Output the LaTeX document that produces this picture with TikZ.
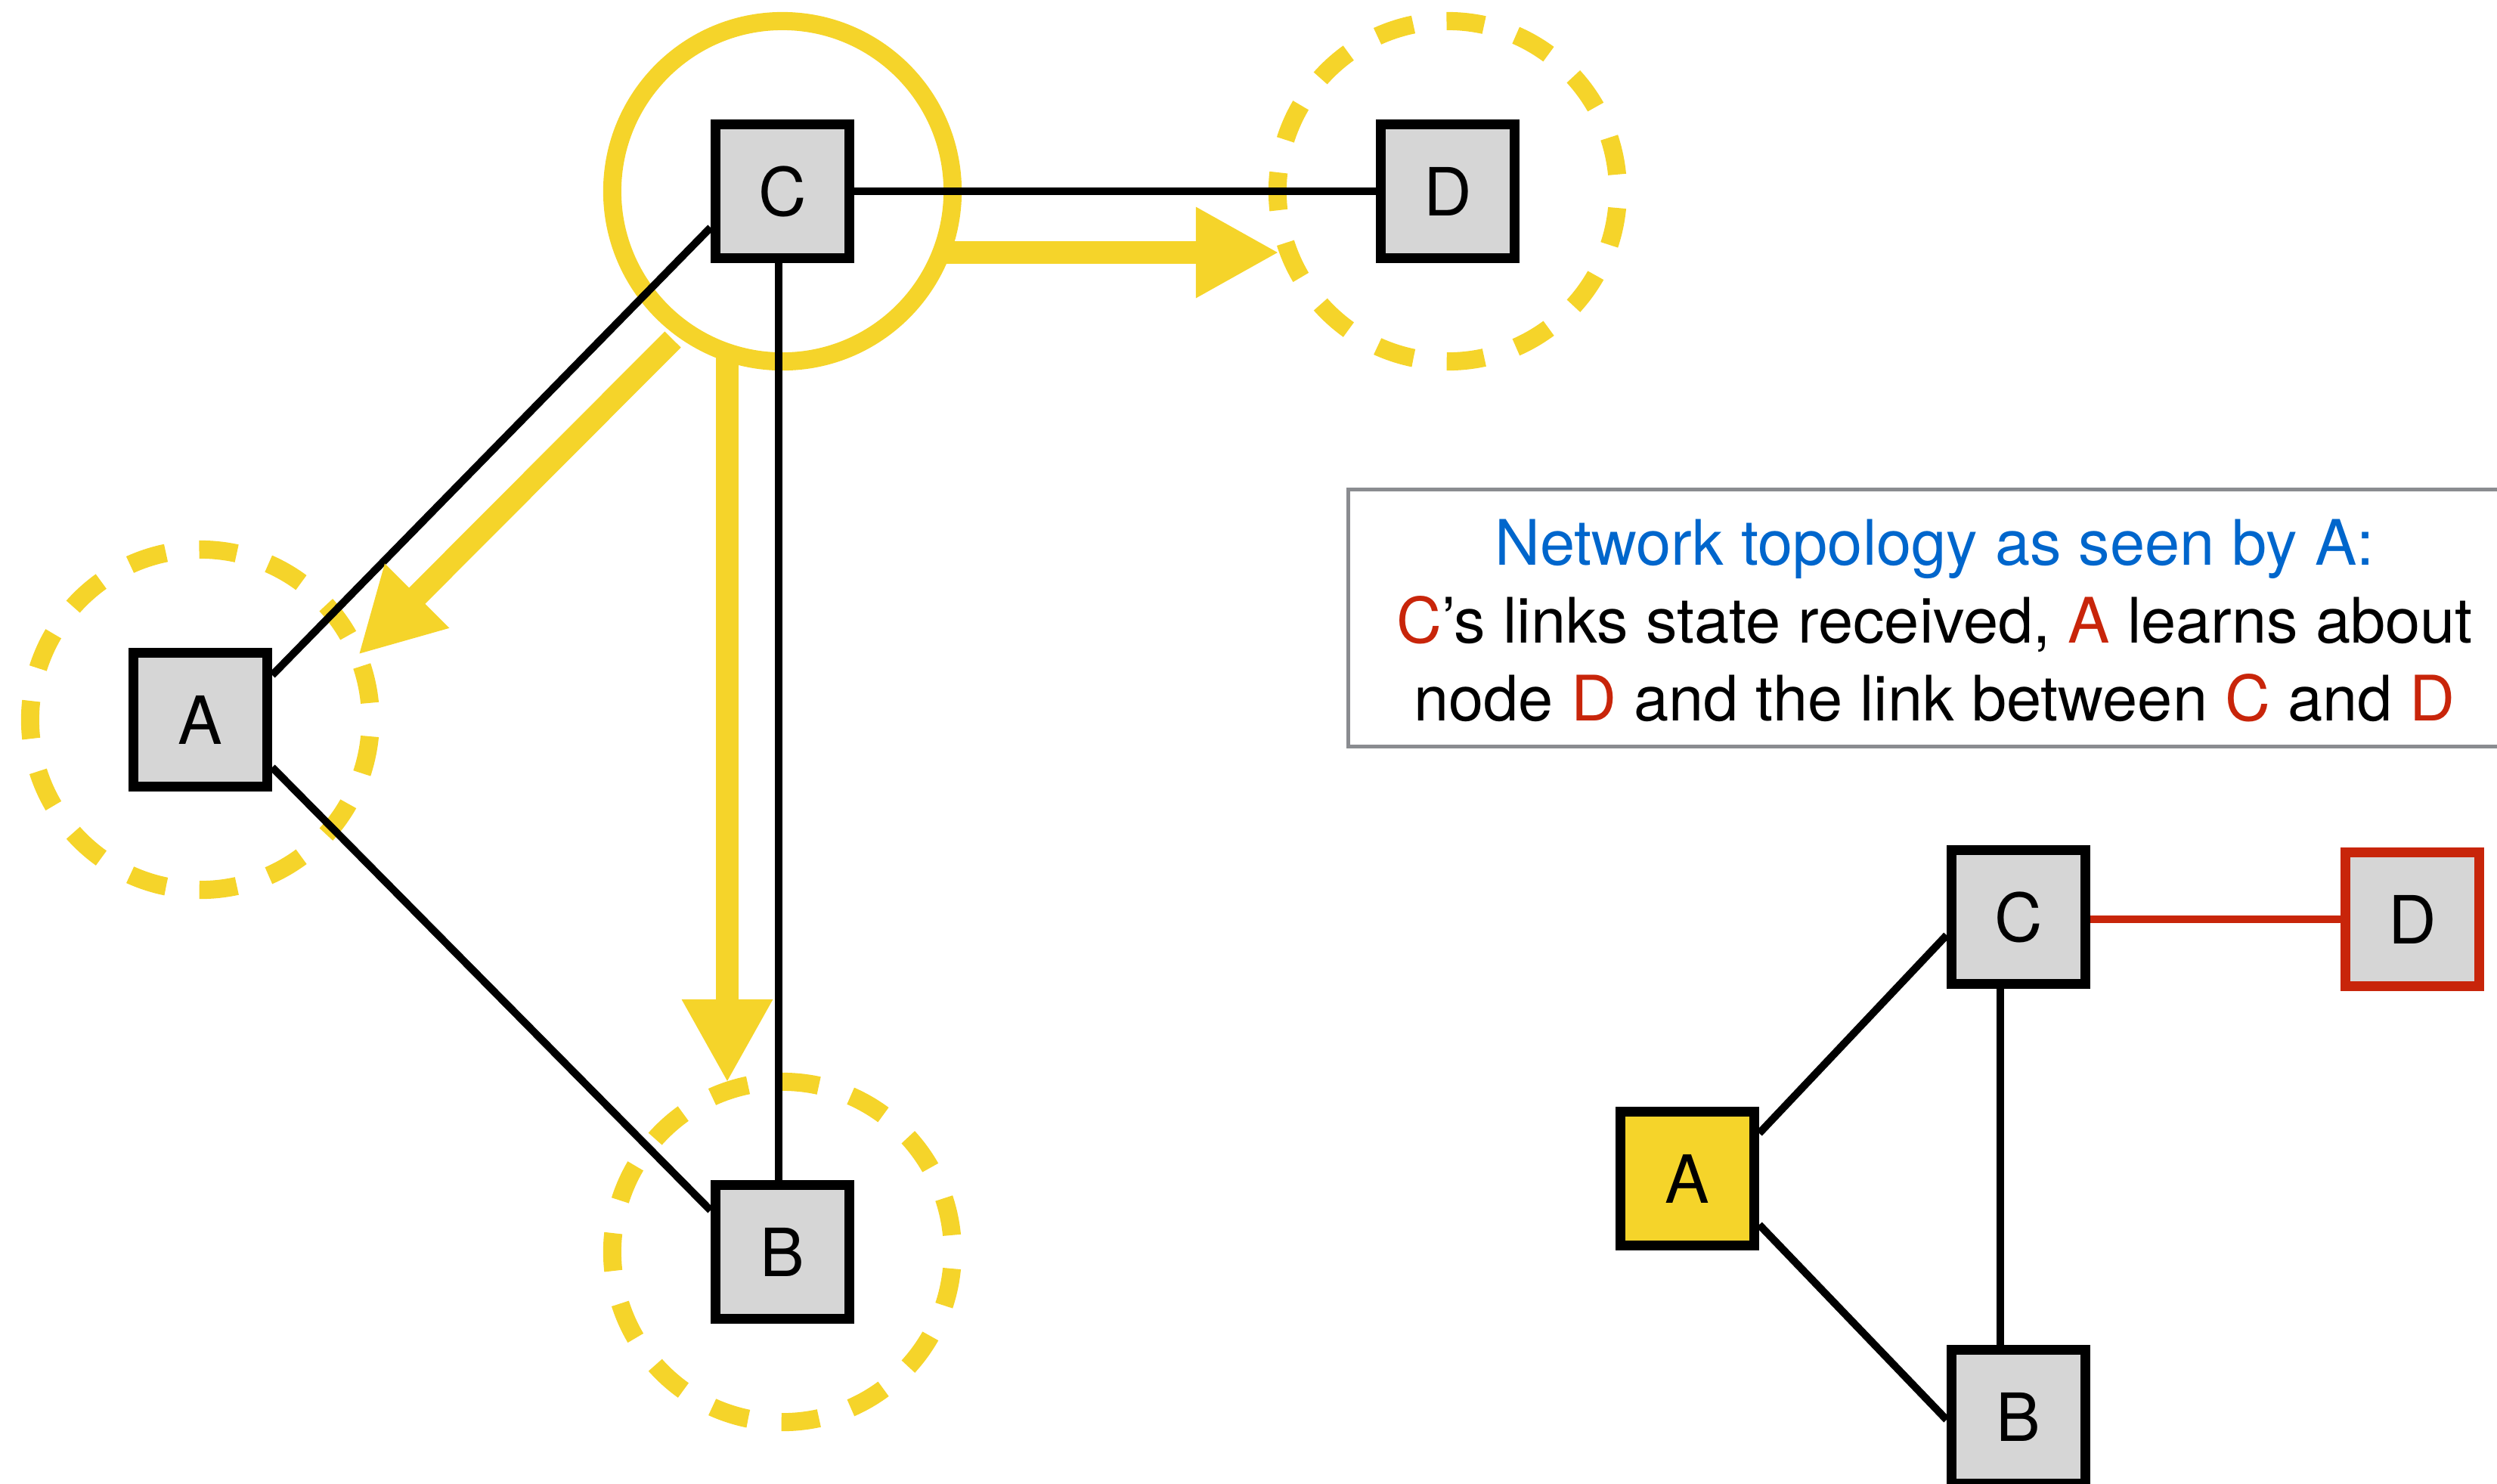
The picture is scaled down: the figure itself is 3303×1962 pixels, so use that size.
\documentclass[tikz,border=0pt]{standalone}
\usepackage{fontspec}
\setmainfont{TeX Gyre Heros}
\usetikzlibrary{arrows.meta,calc}
\definecolor{sun}{HTML}{F5D42A}
\definecolor{boxgray}{HTML}{D6D6D6}
\definecolor{linkred}{HTML}{C8250A}
\definecolor{topoblue}{HTML}{0066CC}
\definecolor{framegray}{HTML}{8A8C90}
\begin{document}
\begin{tikzpicture}[x=0.01cm,y=-0.01cm,
  netnode/.style={draw=black, line width=3.7pt, fill=boxgray, minimum size=50.4pt,
    inner sep=0pt, font=\fontsize{25}{30}\selectfont},
  link/.style={line width=2.85pt, draw=black},
  ring/.style={draw=sun, line width=6.83pt},
  dashring/.style={ring, dash pattern=on 14.23pt off 12.59pt, dash phase=20.5pt},
  flow/.style={draw=sun, line width=8.54pt, -{Triangle[length=31.3pt,width=31.9pt]}},
  textline/.style={inner sep=0pt, anchor=base, font=\fontsize{23.6}{28}\selectfont},
]
\useasboundingbox (0,0) rectangle (3303,1962);

% ---- network as flooded from C ----
\node[netnode] (C) at (1035,253) {C};
\node[netnode] (D) at (1915,253) {D};
\node[netnode] (A) at (265,952) {A};
\node[netnode] (B) at (1035,1656) {B};

% sender ring and receiver rings
\draw[ring] (C.center) circle[radius=64.02pt];
\draw[dashring] (D.center) circle[radius=64.02pt];
\draw[dashring] (A.center) circle[radius=64.02pt];
\draw[dashring] (B.center) circle[radius=64.02pt];

% links
\draw[link] ($(C.west)+(0,48)$) -- ($(A.east)+(0,-59)$);
\draw[link] ($(A.east)+(0,63)$) -- ($(B.west)+(0,-55)$);
\draw[link] ($(C.south)+(-5,0)$) -- ($(B.north)+(-5,0)$);
\draw[link] (C.east) -- (D.west);

% link-state advertisements leaving C
\coordinate (toD0) at (1250,334);
\coordinate (toD1) at (1692,334);
\coordinate (toB0) at (962,466);
\coordinate (toB1) at (962,1432);
\coordinate (toA0) at (890,449);
\coordinate (toA1) at (474,866);
\draw[flow] (toD0) -- (toD1);
\draw[flow] (toB0) -- (toB1);
\draw[flow] (toA0) -- (toA1);

% ---- caption ----
\node[draw=framegray, line width=1.42pt, minimum width=441.3pt, minimum height=96.7pt,
  inner sep=0pt] (note) at (2559,817.5) {};
\node[textline, text=topoblue] (t1) at (2559,747) {Network topology as seen by A:};
\node[textline] (t2) at (2559,850)
  {\textcolor{linkred}{C}’s links state received, \textcolor{linkred}{A} learns about};
\node[textline] (t3) at (2559,953)
  {node \textcolor{linkred}{D} and the link between \textcolor{linkred}{C} and \textcolor{linkred}{D}};

% ---- topology known to A ----
\node[netnode] (C2) at (2670,1213) {C};
\node[netnode, draw=linkred] (D2) at (3191,1216) {D};
\node[netnode, fill=sun] (A2) at (2232,1559) {A};
\node[netnode] (B2) at (2670,1874) {B};

\draw[link] ($(A2.east)+(0,-60)$) -- ($(C2.west)+(0,24)$);
\draw[link] ($(A2.east)+(0,61)$) -- ($(B2.west)+(0,4)$);
\draw[link] ($(C2.south)+(-24,0)$) -- ($(B2.north)+(-24,0)$);
\draw[link, draw=linkred] ($(C2.east)+(0,3)$) -- (D2.west);
\end{tikzpicture}
\end{document}
